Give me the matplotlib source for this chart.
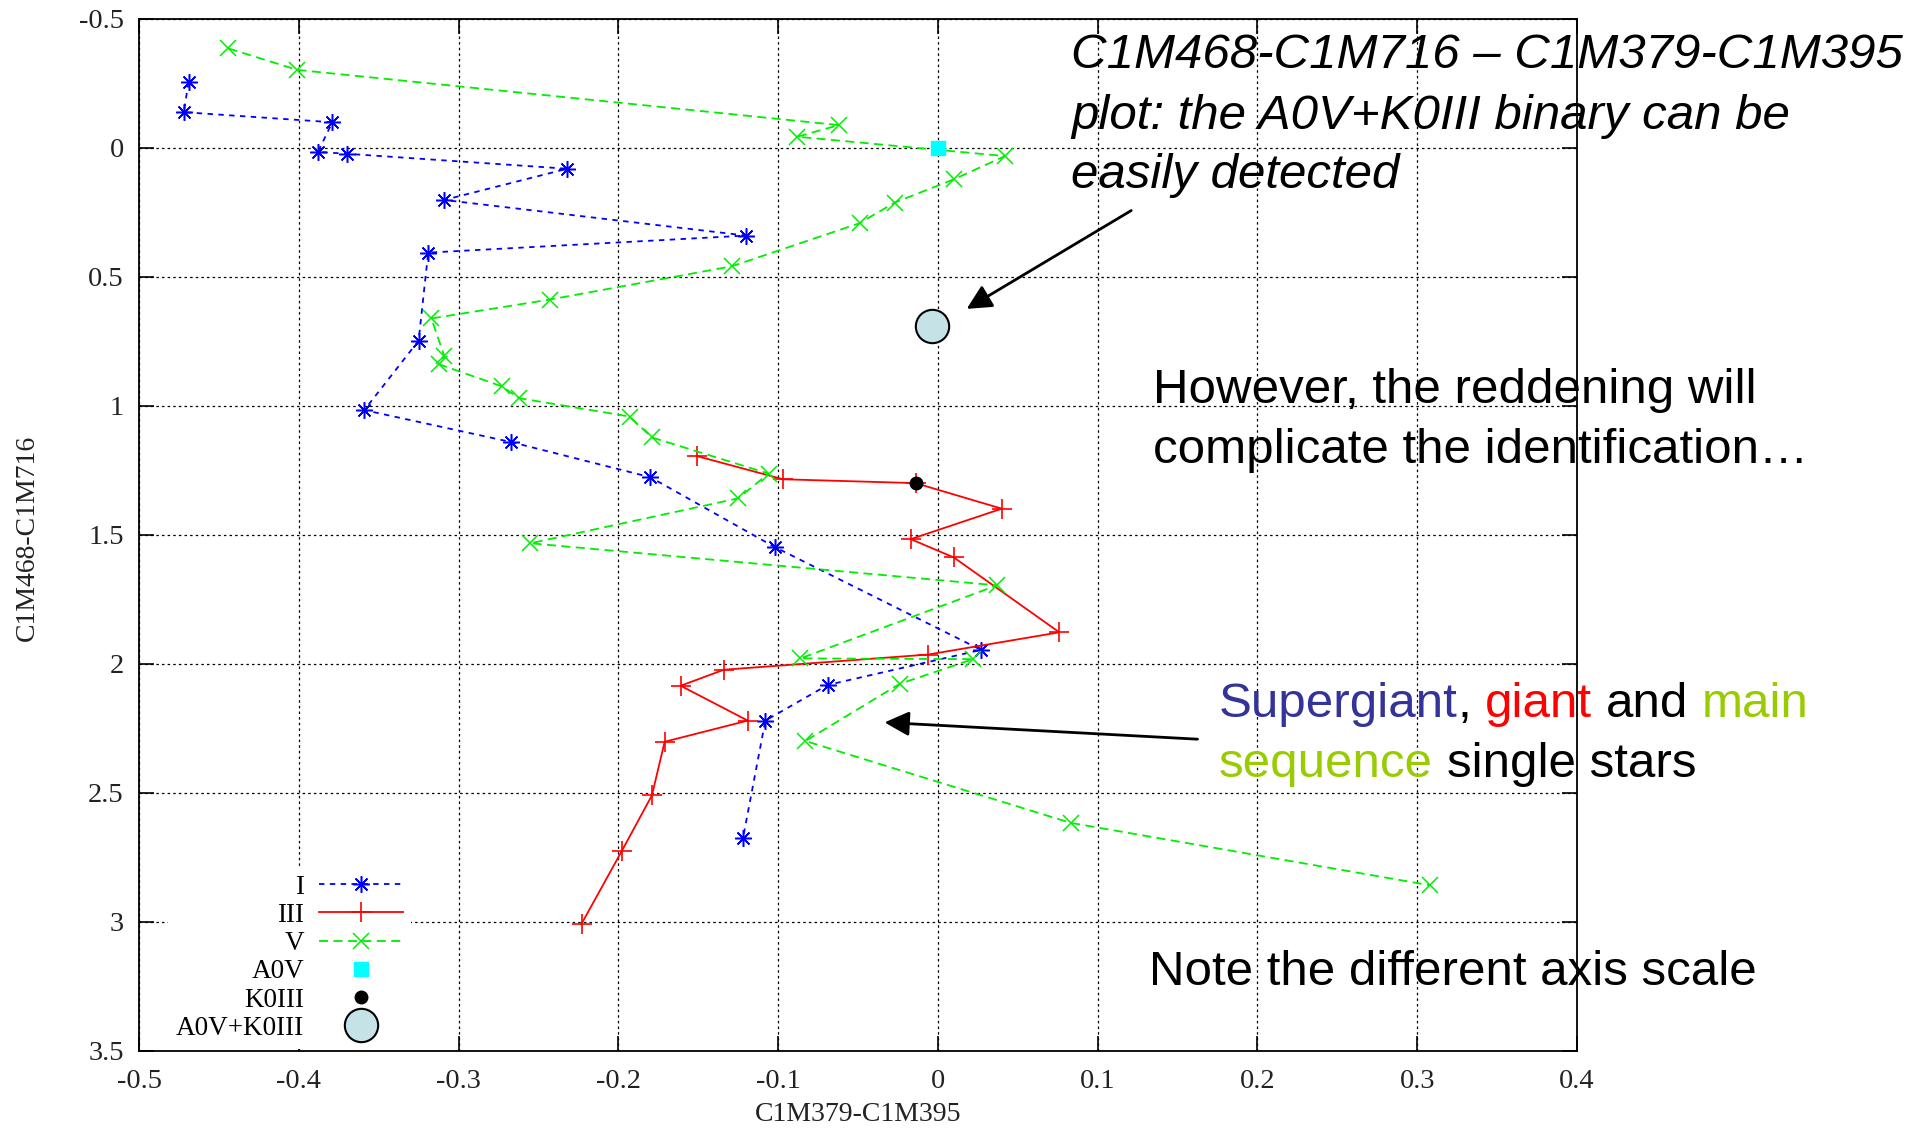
import matplotlib
matplotlib.use('Agg')
import matplotlib.pyplot as plt
from matplotlib.font_manager import FontProperties
from matplotlib.ticker import FormatStrFormatter

# class I (supergiants)
sg_x = [-0.469, -0.472, -0.379, -0.388, -0.370, -0.232, -0.309, -0.120, -0.319,
        -0.325, -0.359, -0.267, -0.180, -0.102, 0.027, -0.069, -0.108, -0.122]
sg_y = [-0.253, -0.137, -0.098, 0.017, 0.024, 0.082, 0.203, 0.341, 0.407,
        0.748, 1.017, 1.141, 1.277, 1.548, 1.946, 2.082, 2.220, 2.676]

# class III (giants)
gi_x = [-0.151, -0.097, -0.014, 0.040, -0.017, 0.010, 0.076, -0.006, -0.134,
        -0.161, -0.119, -0.171, -0.179, -0.198, -0.223]
gi_y = [1.195, 1.285, 1.300, 1.399, 1.517, 1.588, 1.878, 1.964, 2.023,
        2.085, 2.220, 2.302, 2.510, 2.727, 3.007]

# class V (main sequence)
ms_x = [-0.444, -0.401, -0.062, -0.088, 0.042, 0.010, -0.027, -0.049, -0.129,
        -0.243, -0.317, -0.309, -0.312, -0.273, -0.262, -0.193, -0.179, -0.106,
        -0.125, -0.255, 0.037, -0.086, 0.022, -0.024, -0.083, 0.083, 0.308]
ms_y = [-0.384, -0.301, -0.087, -0.042, 0.033, 0.123, 0.213, 0.293, 0.460,
        0.589, 0.662, 0.807, 0.840, 0.925, 0.971, 1.042, 1.123, 1.263,
        1.359, 1.533, 1.696, 1.979, 1.982, 2.078, 2.299, 2.616, 2.858]

a0v_x, a0v_y = [0.0], [0.0]
k0iii_x, k0iii_y = [-0.014], [1.300]
bin_x, bin_y = [-0.0034], [0.690]

labels = ['I', 'III', 'V', 'A0V', 'K0III', 'A0V+K0III']
xticks = [-0.5, -0.4, -0.3, -0.2, -0.1, 0.0, 0.1, 0.2, 0.3, 0.4]
yticks = [-0.5, 0.0, 0.5, 1.0, 1.5, 2.0, 2.5, 3.0, 3.5]

W, H = 1930, 1132


def fx(px):
    return px / W


def fy(py):
    return 1 - py / H


def colored_line(fig, renderer, x, y, line, pieces, fp):
    # place each coloured word where it would sit inside the full line
    pos = 0
    for word, color in pieces:
        end = line.index(word, pos) + len(word)
        w_all = renderer.get_text_width_height_descent(line[:end], fp, ismath=False)[0]
        w_word = renderer.get_text_width_height_descent(word, fp, ismath=False)[0]
        fig.text(fx(x + w_all - w_word), fy(y), word, color=color,
                 fontproperties=fp, ha='left', va='baseline')
        pos = end


def main():
    plt.rcParams['font.family'] = ['Liberation Serif', 'DejaVu Serif']

    fig = plt.figure(figsize=(W / 100, H / 100), dpi=100)
    ax = fig.add_axes([fx(139), fy(1051), fx(1577 - 139), (1051 - 18.5) / H])

    ax.set_xlim(-0.5, 0.4)
    ax.set_ylim(3.5, -0.5)
    ax.set_xticks(xticks)
    ax.set_yticks(yticks)
    ax.xaxis.set_major_formatter(FormatStrFormatter('%g'))
    ax.yaxis.set_major_formatter(FormatStrFormatter('%g'))
    ax.tick_params(direction='in', length=11, width=1.2, top=True, right=True,
                   labelsize=20.5, labelcolor='#222222')
    ax.tick_params(axis='x', pad=13)
    ax.tick_params(axis='y', pad=11)
    for s in ax.spines.values():
        s.set_linewidth(1.3)
    ax.grid(True, color='black', linestyle=(0, (2, 2.5)), linewidth=0.9)
    ax.set_axisbelow(True)

    ax.set_xlabel('C1M379-C1M395', fontsize=20, color='#222222', va='center')
    ax.xaxis.set_label_coords(0.5, -0.0615)
    ax.set_ylabel('C1M468-C1M716', fontsize=20, color='#222222', va='center')
    ax.yaxis.set_label_coords((27 - 139) / 1438, 0.497)

    ax.plot(sg_x, sg_y, color='#0000ff', ls=(0, (3, 3)), lw=1.3,
            marker=(8, 2, 0), ms=12, mew=1.1, label=labels[0])
    ax.plot(gi_x, gi_y, color='#ff0000', ls='-', lw=1.3,
            marker='+', ms=14, mew=1.2, label=labels[1])
    ax.plot(ms_x, ms_y, color='#00ee00', ls=(0, (5, 3)), lw=1.3,
            marker='x', ms=11, mew=1.1, label=labels[2])
    ax.plot(a0v_x, a0v_y, ls='none', marker='s', ms=10, color='#00ffff',
            mec='#00ffff', label=labels[3], zorder=4)
    ax.plot(k0iii_x, k0iii_y, ls='none', marker='o', ms=9, color='black',
            label=labels[4], zorder=4)
    ax.plot(bin_x, bin_y, ls='none', marker='o', ms=24, mfc='#c5e3e6',
            mec='black', mew=1.5, label=labels[5], zorder=4)

    ax.legend(loc='lower right', bbox_to_anchor=(fx(411), fy(1049)),
              bbox_transform=fig.transFigure, markerfirst=False, numpoints=1,
              frameon=True, fancybox=False, edgecolor='none', facecolor='white',
              framealpha=1, borderaxespad=0, labelspacing=0.12,
              handlelength=3.1, handletextpad=0.55, borderpad=0.3,
              prop=FontProperties(family='Liberation Serif', size=19.5))

    arrow = dict(arrowstyle='-|>,head_length=0.5,head_width=0.25', color='black',
                 lw=2, mutation_scale=30, shrinkA=0, shrinkB=0)
    ax.annotate('', xy=(0.018, 0.625), xytext=(0.121, 0.244), arrowprops=arrow)
    ax.annotate('', xy=(-0.0334, 2.227), xytext=(0.1625, 2.292), arrowprops=arrow)

    fp_it = FontProperties(family='Liberation Sans', style='italic', size=35.5)
    fp = FontProperties(family='Liberation Sans', size=35.5)

    for txt, base in [('C1M468-C1M716 \u2013 C1M379-C1M395', 68),
                      ('plot: the A0V+K0III binary can be', 129),
                      ('easily detected', 188)]:
        fig.text(fx(1071), fy(base), txt, fontproperties=fp_it, va='baseline')

    fig.text(fx(1153), fy(403), 'However, the reddening will',
             fontproperties=fp, va='baseline')
    fig.text(fx(1153), fy(463), 'complicate the identification\u2026',
             fontproperties=fp, va='baseline')
    fig.text(fx(1149), fy(985), 'Note the different axis scale',
             fontproperties=fp, va='baseline')

    renderer = fig.canvas.get_renderer()
    colored_line(fig, renderer, 1219, 717, 'Supergiant, giant and main',
                 [('Supergiant', '#333399'), (',', 'black'), ('giant', '#ff0000'),
                  ('and', 'black'), ('main', '#99cc00')], fp)
    colored_line(fig, renderer, 1219, 777, 'sequence single stars',
                 [('sequence', '#99cc00'), ('single stars', 'black')], fp)

    fig.savefig('out.png', dpi=100)


if __name__ == '__main__':
    main()
